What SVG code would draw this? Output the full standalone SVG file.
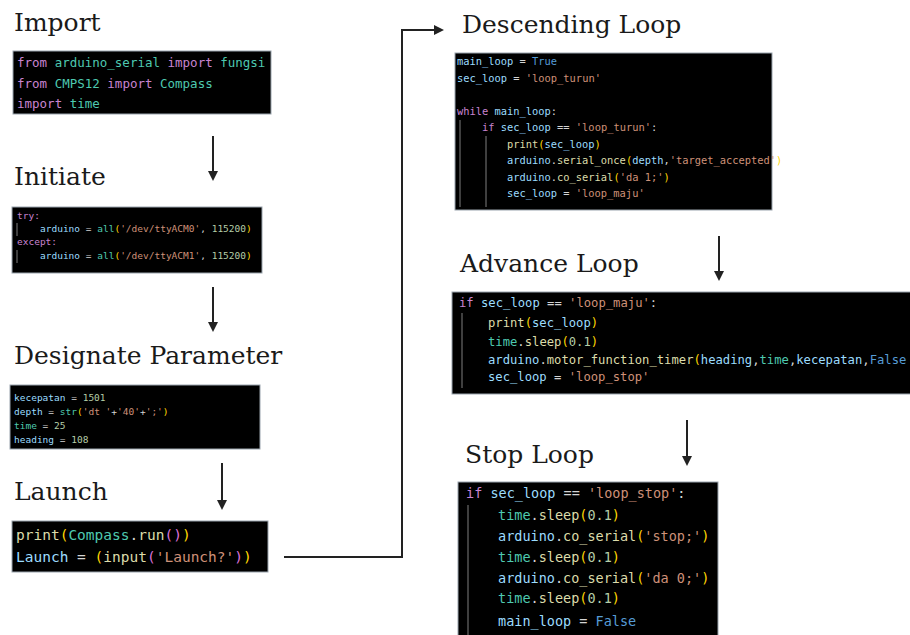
<svg xmlns="http://www.w3.org/2000/svg" width="910" height="635" viewBox="0 0 910 635">
<style>
.title{font-family:"DejaVu Serif","Liberation Serif",serif;font-size:25px;fill:#1a1a1a}
.box{fill:#000;stroke:#9aa4ad;stroke-width:1}
.code{font-family:"DejaVu Sans Mono","Liberation Mono",monospace;fill:#d4d4d4}
.kw{fill:#c984d0}.ty{fill:#4ec9b0}.v{fill:#9cdcfe}.fn{fill:#dcdcaa}.s{fill:#ce9178}.n{fill:#b5cea8}.b1{fill:#ffd700}.b2{fill:#da70d6}.c{fill:#569cd6}.op{fill:#d4d4d4}
.guide{stroke:#6a6a6a;stroke-width:1.2}
.arrow{stroke:#222;stroke-width:2;fill:none}
</style>
<defs>
<marker id="ah" markerWidth="10" markerHeight="10" refX="8" refY="5" orient="auto" markerUnits="userSpaceOnUse">
<path d="M0,0 L10,5 L0,10 Z" fill="#222"/>
</marker>
</defs>

<g id="import">
<text class="title" x="14" y="31">Import</text>
<rect class="box" x="13" y="51" width="258" height="63"/>
<text class="code" font-size="12.5">
<tspan x="17" y="67"><tspan class="kw">from</tspan> <tspan class="ty">arduino_serial</tspan> <tspan class="kw">import</tspan> <tspan class="ty">fungsi</tspan></tspan>
<tspan x="17" y="88"><tspan class="kw">from</tspan> <tspan class="ty">CMPS12</tspan> <tspan class="kw">import</tspan> <tspan class="ty">Compass</tspan></tspan>
<tspan x="17" y="108"><tspan class="kw">import</tspan> <tspan class="ty">time</tspan></tspan>
</text>
</g>

<g id="initiate">
<text class="title" x="14" y="185">Initiate</text>
<rect class="box" x="12" y="207" width="250" height="66"/>
<line class="guide" x1="17" y1="223" x2="17" y2="236"/>
<line class="guide" x1="17" y1="250" x2="17" y2="263"/>
<text class="code" font-size="9.5">
<tspan x="17" y="219" class="kw">try:</tspan>
<tspan x="40" y="232"><tspan class="v">arduino</tspan> = <tspan class="ty">all</tspan><tspan class="b1">(</tspan><tspan class="s">'/dev/ttyACM0'</tspan>, <tspan class="n">115200</tspan><tspan class="b1">)</tspan></tspan>
<tspan x="17" y="245" class="kw">except:</tspan>
<tspan x="40" y="259"><tspan class="v">arduino</tspan> = <tspan class="ty">all</tspan><tspan class="b1">(</tspan><tspan class="s">'/dev/ttyACM1'</tspan>, <tspan class="n">115200</tspan><tspan class="b1">)</tspan></tspan>
</text>
</g>

<g id="designate">
<text class="title" x="14" y="364">Designate Parameter</text>
<rect class="box" x="10" y="385" width="250" height="64"/>
<text class="code" font-size="9.5">
<tspan x="14" y="401"><tspan class="v">kecepatan</tspan> = <tspan class="n">1501</tspan></tspan>
<tspan x="14" y="415"><tspan class="v">depth</tspan> = <tspan class="ty">str</tspan><tspan class="b1">(</tspan><tspan class="s">'dt '</tspan>+<tspan class="s">'40'</tspan>+<tspan class="s">';'</tspan><tspan class="b1">)</tspan></tspan>
<tspan x="14" y="429"><tspan class="ty">time</tspan> = <tspan class="n">25</tspan></tspan>
<tspan x="14" y="443"><tspan class="v">heading</tspan> = <tspan class="n">108</tspan></tspan>
</text>
</g>

<g id="launch">
<text class="title" x="14" y="500">Launch</text>
<rect class="box" x="12" y="521" width="256" height="51"/>
<text class="code" font-size="14.5">
<tspan x="16" y="540"><tspan class="fn">print</tspan><tspan class="b1">(</tspan><tspan class="ty">Compass</tspan>.<tspan class="fn">run</tspan><tspan class="b2">()</tspan><tspan class="b1">)</tspan></tspan>
<tspan x="16" y="562"><tspan class="v">Launch</tspan> = <tspan class="b1">(</tspan><tspan class="fn">input</tspan><tspan class="b2">(</tspan><tspan class="s">'Launch?'</tspan><tspan class="b2">)</tspan><tspan class="b1">)</tspan></tspan>
</text>
</g>

<g id="descending">
<text class="title" x="462" y="33">Descending Loop</text>
<rect class="box" x="455" y="53" width="317" height="157"/>
<line class="guide" x1="460" y1="120" x2="460" y2="207"/>
<line class="guide" x1="486" y1="136" x2="486" y2="207"/>
<text class="code" font-size="10.4">
<tspan x="457" y="65"><tspan class="v">main_loop</tspan> = <tspan class="c">True</tspan></tspan>
<tspan x="457" y="82"><tspan class="v">sec_loop</tspan> = <tspan class="s">'loop_turun'</tspan></tspan>
<tspan x="457" y="115"><tspan class="kw">while</tspan> <tspan class="v">main_loop</tspan>:</tspan>
<tspan x="482" y="131"><tspan class="kw">if</tspan> <tspan class="v">sec_loop</tspan> == <tspan class="s">'loop_turun'</tspan>:</tspan>
<tspan x="507" y="148"><tspan class="fn">print</tspan><tspan class="b1">(</tspan><tspan class="v">sec_loop</tspan><tspan class="b1">)</tspan></tspan>
<tspan x="507" y="164"><tspan class="v">arduino</tspan>.<tspan class="fn">serial_once</tspan><tspan class="b1">(</tspan><tspan class="v">depth</tspan>,<tspan class="s">'target_accepted'</tspan><tspan class="b1">)</tspan></tspan>
<tspan x="507" y="181"><tspan class="v">arduino</tspan>.<tspan class="fn">co_serial</tspan><tspan class="b1">(</tspan><tspan class="s">'da 1;'</tspan><tspan class="b1">)</tspan></tspan>
<tspan x="507" y="197"><tspan class="v">sec_loop</tspan> = <tspan class="s">'loop_maju'</tspan></tspan>
</text>
</g>

<g id="advance">
<text class="title" x="460" y="272">Advance Loop</text>
<rect class="box" x="452" y="292" width="470" height="102"/>
<line class="guide" x1="462" y1="313" x2="462" y2="388"/>
<text class="code" font-size="12.2">
<tspan x="459" y="307"><tspan class="kw">if</tspan> <tspan class="v">sec_loop</tspan> == <tspan class="s">'loop_maju'</tspan>:</tspan>
<tspan x="488" y="327"><tspan class="fn">print</tspan><tspan class="b1">(</tspan><tspan class="v">sec_loop</tspan><tspan class="b1">)</tspan></tspan>
<tspan x="488" y="346"><tspan class="ty">time</tspan>.<tspan class="fn">sleep</tspan><tspan class="b1">(</tspan><tspan class="n">0.1</tspan><tspan class="b1">)</tspan></tspan>
<tspan x="488" y="364"><tspan class="v">arduino</tspan>.<tspan class="fn">motor_function_timer</tspan><tspan class="b1">(</tspan><tspan class="v">heading</tspan>,<tspan class="ty">time</tspan>,<tspan class="v">kecepatan</tspan>,<tspan class="c">False</tspan></tspan>
<tspan x="488" y="381"><tspan class="v">sec_loop</tspan> = <tspan class="s">'loop_stop'</tspan></tspan>
</text>
</g>

<g id="stop">
<text class="title" x="465" y="463">Stop Loop</text>
<rect class="box" x="458" y="482" width="260" height="160"/>
<line class="guide" x1="468" y1="505" x2="468" y2="635"/>
<text class="code" font-size="13.5">
<tspan x="466" y="498"><tspan class="kw">if</tspan> <tspan class="v">sec_loop</tspan> == <tspan class="s">'loop_stop'</tspan>:</tspan>
<tspan x="498" y="520"><tspan class="ty">time</tspan>.<tspan class="fn">sleep</tspan><tspan class="b1">(</tspan><tspan class="n">0.1</tspan><tspan class="b1">)</tspan></tspan>
<tspan x="498" y="541"><tspan class="v">arduino</tspan>.<tspan class="fn">co_serial</tspan><tspan class="b1">(</tspan><tspan class="s">'stop;'</tspan><tspan class="b1">)</tspan></tspan>
<tspan x="498" y="562"><tspan class="ty">time</tspan>.<tspan class="fn">sleep</tspan><tspan class="b1">(</tspan><tspan class="n">0.1</tspan><tspan class="b1">)</tspan></tspan>
<tspan x="498" y="583"><tspan class="v">arduino</tspan>.<tspan class="fn">co_serial</tspan><tspan class="b1">(</tspan><tspan class="s">'da 0;'</tspan><tspan class="b1">)</tspan></tspan>
<tspan x="498" y="603"><tspan class="ty">time</tspan>.<tspan class="fn">sleep</tspan><tspan class="b1">(</tspan><tspan class="n">0.1</tspan><tspan class="b1">)</tspan></tspan>
<tspan x="498" y="626"><tspan class="v">main_loop</tspan> = <tspan class="c">False</tspan></tspan>
</text>
</g>

<g id="connectors">
<line class="arrow" x1="213" y1="136" x2="213" y2="179" marker-end="url(#ah)"/>
<line class="arrow" x1="213" y1="287" x2="213" y2="330" marker-end="url(#ah)"/>
<line class="arrow" x1="222" y1="463" x2="222" y2="508" marker-end="url(#ah)"/>
<path class="arrow" d="M284,557 H402 V30 H442" marker-end="url(#ah)"/>
<line class="arrow" x1="719" y1="236" x2="719" y2="279" marker-end="url(#ah)"/>
<line class="arrow" x1="687" y1="420" x2="687" y2="464" marker-end="url(#ah)"/>
</g>
</svg>
